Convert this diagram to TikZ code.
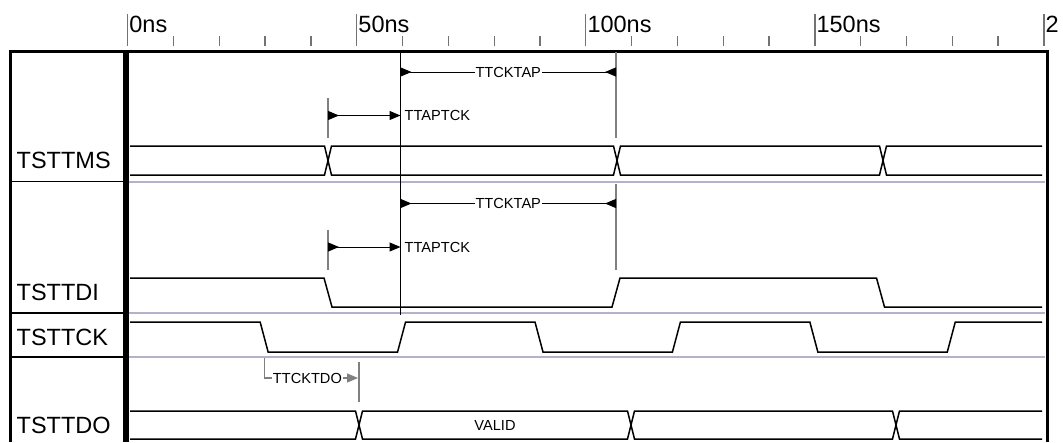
\documentclass[tikz,border=0pt]{standalone}
\usepackage{fontspec}
\setmainfont{Liberation Sans}
\usetikzlibrary{arrows.meta}
\usetikzlibrary{positioning}
\definecolor{mysep}{RGB}{178,178,202}
\colorlet{mytick}{black!55}
\colorlet{mymark}{black!50}
\def\tzero{127.7} % x of 0ns
\def\tns{4.581}   % px per ns
\def\hx{3.5}      % half width of a bus crossing
\def\ew{4}        % half width of an edge
\tikzset{
  >=latex,
  frame/.style={line width=3pt,line join=miter},
  divider/.style={line width=5.5pt},
  sep name/.style={line width=1.8pt},
  sep wave/.style={line width=2pt,mysep},
  wave/.style={line width=1.5pt,line join=miter},
  tick/.style={line width=1.3pt,mytick},
  big text/.style={font=\fontsize{23.5}{28}\selectfont,inner sep=0,anchor=base west},
  small text/.style={font=\fontsize{14.6}{17}\selectfont,inner sep=1pt},
  ref line/.style={line width=1pt},
  marker/.style={line width=1.2pt,mymark},
  dim both/.style={line width=1pt,{Triangle[reversed,length=11pt,width=9pt]}-{Triangle[reversed,length=11pt,width=9pt]}},
  dim one/.style={line width=1pt,{Triangle[reversed,length=11pt,width=9pt]}-{Triangle[length=11pt,width=9pt]}},
  delay/.style={line width=1.2pt,mymark,-{Triangle[length=11pt,width=9pt]}}
}

\begin{document}
\begin{tikzpicture}[x=1pt,y=-1pt]
  \useasboundingbox (0,0) rectangle (1063,442);

  % time ruler
  \foreach \t in {0,10,...,190}
    \draw[tick] ({\tzero+\tns*\t},36) -- ({\tzero+\tns*\t},46);
  \foreach \t/\lab in {0/0ns,50/50ns,100/100ns,150/150ns,200/2}{
    \draw[tick] ({\tzero+\tns*\t},14) -- ({\tzero+\tns*\t},46);
    \node[big text] (r\t) at ({\tzero+\tns*\t+1.5},32) {\lab};
  }

  % frame
  \draw[frame] (10,442) -- (10,51) -- (1047,51) -- (1047,442);
  \draw[divider] (126,51) -- (126,442);
  \foreach \y in {181.5,313,357}{
    \draw[sep name] (10,\y) -- (124,\y);
    \draw[sep wave] (129,\y) -- (1045,\y);
  }

  % signal names
  \node[big text] (ms) at (16.5,168) {TSTTMS};
  \node[big text] (di) at (16.5,300) {TSTTDI};
  \node[big text] (ck) at (16.5,345) {TSTTCK};
  \node[big text] (do) at (16.5,433) {TSTTDO};

  % TSTTMS
  \draw[wave] (130,146) foreach \x/\a/\b in {328/146/175,617/175/146,883/146/175}{ -- ({\x-\hx},\a) -- ({\x+\hx},\b)} -- (1042,175);
  \draw[wave] (130,175) foreach \x/\a/\b in {328/175/146,617/146/175,883/175/146}{ -- ({\x-\hx},\a) -- ({\x+\hx},\b)} -- (1042,146);

  % TSTTDI
  \draw[wave] (130,278) foreach \x/\a/\b in {328/278/307,616/307/278,880.5/278/307}{ -- ({\x-\ew},\a) -- ({\x+\ew},\b)} -- (1042,307);

  % TSTTCK
  \draw[wave] (130,322) foreach \t/\a/\b in {30/322/352,60/352/322,90/322/352,120/352/322,150/322/352,180/352/322}{ -- ({\tzero+\tns*\t-1-\ew},\a) -- ({\tzero+\tns*\t-1+\ew},\b)} -- (1042,322);

  % TSTTDO
  \draw[wave] (130,411) foreach \x/\a/\b in {359/411/439,631/439/411,896/411/439}{ -- ({\x-\hx},\a) -- ({\x+\hx},\b)} -- (1042,439);
  \draw[wave] (130,439) foreach \x/\a/\b in {359/439/411,631/411/439,896/439/411}{ -- ({\x-\hx},\a) -- ({\x+\hx},\b)} -- (1042,411);
  \node[small text] (valid) at (495,425) {VALID};

  % clock edge reference
  \coordinate (tck top) at (400.5,51);
  \coordinate (tck bot) at (400.5,315);
  \draw[ref line] (tck top) -- (tck bot);

  % setup / hold
  \foreach \r/\oy in {ms/0,di/131.5}{
    \draw[marker] (328,{98+\oy}) -- (328,{138+\oy});
    \draw[marker] (616,{52+\oy}) -- (616,{138+\oy});
    \coordinate (\r tap l) at (400.5,{72+\oy});
    \coordinate (\r tap r) at (616,{72+\oy});
    \draw[dim both] (\r tap l) -- node[small text,fill=white] (\r tap) {TTCKTAP} (\r tap r);
    \coordinate (\r apt l) at (328,{115.5+\oy});
    \coordinate (\r apt r) at (400.5,{115.5+\oy});
    \draw[dim one] (\r apt l) -- (\r apt r);
    \node[small text,anchor=west,right=3pt of \r apt r] (\r apt) {TTAPTCK};
  }

  % clock to out
  \coordinate (ck fall) at (264.3,358);
  \coordinate (do x) at (358,378);
  \draw[delay] (ck fall) |- node[small text,text=black,fill=white,pos=0.73] (tdo) {TTCKTDO} (do x);
  \draw[marker] (359,362) -- (359,402);
\end{tikzpicture}
\end{document}
